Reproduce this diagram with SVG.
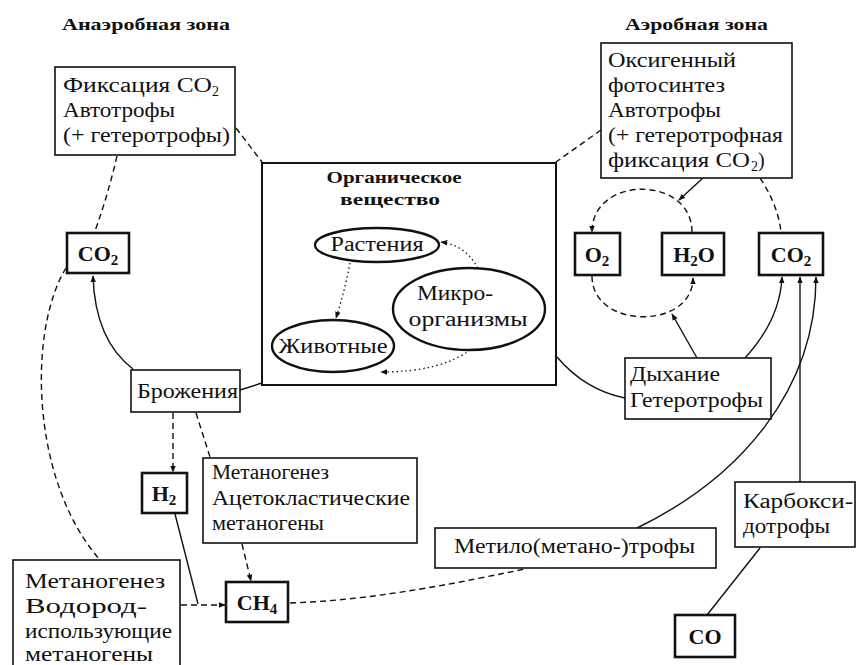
<svg xmlns="http://www.w3.org/2000/svg" width="856" height="665" viewBox="0 0 856 665" font-family="Liberation Serif, DejaVu Serif, serif">
<defs>
<marker id="ah" viewBox="0 0 10 10" refX="9" refY="5" markerWidth="7" markerHeight="7" orient="auto" markerUnits="userSpaceOnUse">
<path d="M0,1 L10,5 L0,9 z" fill="#111"/>
</marker>
</defs>
<style>
text{font-family:'Liberation Serif','DejaVu Serif',serif;fill:#111}
.t{font-size:20px}
.b{font-size:22px;font-weight:bold}
.h{font-size:16px;font-weight:bold}
.box{fill:#fff;stroke:#111;stroke-width:1.6}
.tbox{fill:#fff;stroke:#111;stroke-width:2.6}
.ell{fill:#fff;stroke:#111;stroke-width:2.4}
.s{fill:none;stroke:#111;stroke-width:1.4}
.d{fill:none;stroke:#111;stroke-width:1.4;stroke-dasharray:6 4}
.o{fill:none;stroke:#111;stroke-width:1.3;stroke-dasharray:1.5 3}
.sub{font-size:15px}
.sm{font-size:14px}
</style>
<rect width="856" height="665" fill="#fff"/>
<text class="h" x="62" y="30" textLength="168" lengthAdjust="spacingAndGlyphs">Анаэробная зона</text>
<text class="h" x="625" y="30" textLength="143" lengthAdjust="spacingAndGlyphs">Аэробная зона</text>

<g id="connectors">
<path class="d" d="M117,156 Q108,195 95,231"/>
<path class="d" d="M236,128 L262,162"/>
<path class="d" d="M601,130 L556,162"/>
<path class="s" d="M703,178 L679,200" marker-end="url(#ah)"/>
<path class="d" d="M692,232 C692,175 592,175 592,232" marker-end="url(#ah)"/>
<path class="d" d="M592,276 C592,330 693,330 693,278" marker-end="url(#ah)"/>
<path class="s" d="M697,358 L672,314" marker-end="url(#ah)"/>
<path class="d" d="M760,178 Q778,205 781,232"/>
<path class="s" d="M745,358 Q780,320 782,277" marker-end="url(#ah)"/>
<path class="s" d="M557,357 Q585,390 625,398"/>
<path class="s" d="M637,528 C740,478 816,390 816,277" marker-end="url(#ah)"/>
<path class="s" d="M800,482 L800,277" marker-end="url(#ah)"/>
<path class="s" d="M707,615 L760,548"/>
<path class="d" d="M290,603 C380,600 470,580 525,569"/>
<path class="s" d="M133,369 Q95,340 93,276" marker-end="url(#ah)"/>
<path class="s" d="M240,390 L262,383"/>
<path class="d" d="M66,268 C28,330 30,480 100,560"/>
<path class="d" d="M173,413 L173,472" marker-end="url(#ah)"/>
<path class="d" d="M196,413 L210,457"/>
<path class="d" d="M242,544 L251,581" marker-end="url(#ah)"/>
<path class="s" d="M175,514 L198,604"/>
<path class="d" d="M181,605 L225,605" marker-end="url(#ah)"/>
</g>

<g id="fix">
<rect class="box" x="55" y="67" width="180" height="88"/>
<text class="t" x="63" y="92" textLength="149" lengthAdjust="spacingAndGlyphs">Фиксация CO</text>
<text class="sm" x="212" y="96">2</text>
<text class="t" x="63" y="117" textLength="112" lengthAdjust="spacingAndGlyphs">Автотрофы</text>
<text class="t" x="63" y="142" textLength="167" lengthAdjust="spacingAndGlyphs">(+ гетеротрофы)</text>
</g>

<g id="aerob">
<rect class="box" x="601" y="43" width="191" height="135"/>
<text class="t" x="608" y="67" textLength="128" lengthAdjust="spacingAndGlyphs">Оксигенный</text>
<text class="t" x="608" y="92" textLength="117" lengthAdjust="spacingAndGlyphs">фотосинтез</text>
<text class="t" x="608" y="117" textLength="113" lengthAdjust="spacingAndGlyphs">Автотрофы</text>
<text class="t" x="608" y="142" textLength="175" lengthAdjust="spacingAndGlyphs">(+ гетеротрофная</text>
<text class="t" x="608" y="167" textLength="142" lengthAdjust="spacingAndGlyphs">фиксация CO</text>
<text class="sm" x="751" y="171">2</text>
<text class="t" x="758" y="167">)</text>
</g>

<g id="organic">
<rect x="262" y="163" width="294" height="222" fill="#fff" stroke="#111" stroke-width="2"/>
<text class="h" x="394" y="183" text-anchor="middle" textLength="135" lengthAdjust="spacingAndGlyphs">Органическое</text>
<text class="h" x="390" y="205" text-anchor="middle" textLength="100" lengthAdjust="spacingAndGlyphs">вещество</text>
</g>

<g id="plants">
<ellipse class="ell" cx="377" cy="245" rx="62" ry="17"/>
<text class="t" x="377" y="251" text-anchor="middle" textLength="93" lengthAdjust="spacingAndGlyphs">Растения</text>
</g>
<g id="micro">
<ellipse class="ell" cx="469" cy="309" rx="76" ry="41"/>
<text class="t" x="455" y="300" text-anchor="middle" textLength="76" lengthAdjust="spacingAndGlyphs">Микро-</text>
<text class="t" x="468" y="326" text-anchor="middle" textLength="119" lengthAdjust="spacingAndGlyphs">организмы</text>
</g>
<g id="animals">
<ellipse class="ell" cx="333" cy="346" rx="61" ry="26"/>
<text class="t" x="333" y="353" text-anchor="middle" textLength="109" lengthAdjust="spacingAndGlyphs">Животные</text>
</g>
<g id="inner-links">
<path class="o" d="M350,263 Q345,290 336,318" marker-end="url(#ah)"/>
<path class="o" d="M478,268 Q465,245 441,242" marker-end="url(#ah)"/>
<path class="o" d="M470,350 Q440,372 381,372" marker-end="url(#ah)"/>
</g>

<g id="o2">
<rect class="tbox" x="575" y="233" width="45" height="42"/>
<text class="b" x="597" y="262" text-anchor="middle">O<tspan class="sub" dy="4">2</tspan></text>
</g>
<g id="h2o">
<rect class="tbox" x="662" y="233" width="62" height="42"/>
<text class="b" x="694" y="262" text-anchor="middle">H<tspan class="sub" dy="4">2</tspan><tspan dy="-4">O</tspan></text>
</g>
<g id="co2r">
<rect class="tbox" x="759" y="233" width="64" height="42"/>
<text class="b" x="791" y="262" text-anchor="middle">CO<tspan class="sub" dy="4">2</tspan></text>
</g>
<g id="resp">
<rect class="box" x="625" y="358" width="146" height="61"/>
<text class="t" x="630" y="381" textLength="90" lengthAdjust="spacingAndGlyphs">Дыхание</text>
<text class="t" x="630" y="407" textLength="133" lengthAdjust="spacingAndGlyphs">Гетеротрофы</text>
</g>
<g id="co2l">
<rect class="tbox" x="67" y="233" width="62" height="40"/>
<text class="b" x="98" y="261" text-anchor="middle">CO<tspan class="sub" dy="4">2</tspan></text>
</g>
<g id="ferm">
<rect class="box" x="131" y="370" width="109" height="42"/>
<text class="t" x="137" y="398" textLength="101" lengthAdjust="spacingAndGlyphs">Брожения</text>
</g>
<g id="h2">
<rect class="tbox" x="142" y="473" width="45" height="40"/>
<text class="b" x="164" y="501" text-anchor="middle">H<tspan class="sub" dy="4">2</tspan></text>
</g>
<g id="aceto">
<rect class="box" x="203" y="458" width="214" height="85"/>
<text class="t" x="212" y="479" textLength="117" lengthAdjust="spacingAndGlyphs">Метаногенез</text>
<text class="t" x="212" y="505" textLength="198" lengthAdjust="spacingAndGlyphs">Ацетокластические</text>
<text class="t" x="212" y="530" textLength="112" lengthAdjust="spacingAndGlyphs">метаногены</text>
</g>
<g id="ch4">
<rect class="tbox" x="226" y="582" width="62" height="40"/>
<text class="b" x="257" y="610" text-anchor="middle">CH<tspan class="sub" dy="4">4</tspan></text>
</g>
<g id="hydro">
<rect class="box" x="13" y="560" width="167" height="110"/>
<text class="t" x="25" y="588" textLength="140" lengthAdjust="spacingAndGlyphs">Метаногенез</text>
<text class="t" x="25" y="613" textLength="122" lengthAdjust="spacingAndGlyphs">Водород-</text>
<text class="t" x="25" y="638" textLength="147" lengthAdjust="spacingAndGlyphs">использующие</text>
<text class="t" x="25" y="661" textLength="128" lengthAdjust="spacingAndGlyphs">метаногены</text>
</g>
<g id="methylo">
<rect class="box" x="435" y="528" width="281" height="40"/>
<text class="t" x="454" y="553" textLength="241" lengthAdjust="spacingAndGlyphs">Метило(метано-)трофы</text>
</g>
<g id="carboxy">
<rect class="box" x="735" y="482" width="120" height="65"/>
<text class="t" x="743" y="508" textLength="110" lengthAdjust="spacingAndGlyphs">Карбокси-</text>
<text class="t" x="743" y="533" textLength="87" lengthAdjust="spacingAndGlyphs">дотрофы</text>
</g>
<g id="co">
<rect class="tbox" x="675" y="615" width="60" height="42"/>
<text class="b" x="705" y="644" text-anchor="middle">CO</text>
</g>
</svg>
